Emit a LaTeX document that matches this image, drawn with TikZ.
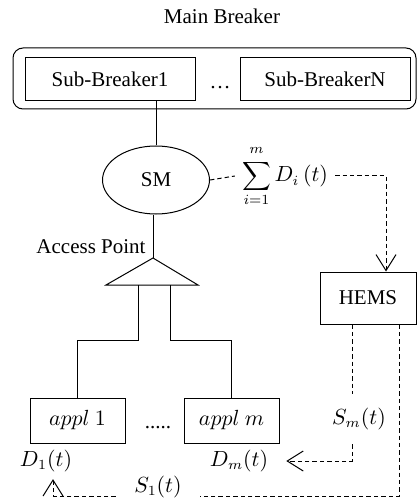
\documentclass[tikz,border=0pt]{standalone}
\usepackage{fontspec}
\setmainfont{Liberation Serif}
\usetikzlibrary{shapes.geometric,arrows.meta}
\begin{document}
\begin{tikzpicture}[x=0.5pt,y=-0.5pt,line width=0.5pt,
    font=\fontsize{10.5}{12.6}\selectfont,
    brk/.style={draw,minimum width=85pt,minimum height=21.5pt,inner sep=1pt},
    appl/.style={draw,minimum width=47.5pt,minimum height=22.5pt},
    sig/.style={dash pattern=on 2.2pt off 1.5pt},
    sigarrow/.style={-{Straight Barb[length=8pt,width=10pt]}}]
    \useasboundingbox (0,0) rectangle (417,502);
    \node (mb) at (222,16) {Main Breaker};
    \node[draw,rounded corners=5pt,minimum width=201.5pt,minimum height=30.5pt] (main) at (214.5,78.5) {};
    \node[brk] (sb1) at (110,79.5) {Sub-Breaker1};
    \node[anchor=base] (sbdots) at (220,89) {\dots};
    \node[brk] (sbn) at (325,79.5) {Sub-BreakerN};
    \node[draw,ellipse,minimum width=53.5pt,minimum height=34pt,inner sep=0pt] (sm) at (156,180) {SM};
    \node (sum) at (285,176) {$\displaystyle\sum_{i=1}^{m\rule[-2.5pt]{0pt}{0pt}} D_i\,(t)$};
    \node (aplbl) at (91,247) {Access Point};
    \node[draw,minimum width=48pt,minimum height=26pt] (hems) at (368,298) {HEMS};
    \node[appl] (a1) at (77.5,420.5) {$appl~1$};
    \node[anchor=base] (adots) at (158,428) {.....};
    \node[appl] (am) at (231.5,420.5) {$appl~m$};
    \node (d1) at (46,461) {$D_1(t)$};
    \node (dm) at (239,461) {$D_m(t)$};
    \node[inner ysep=7pt] (sml) at (359,419) {$S_m(t)$};
    \node[inner xsep=9pt] (s1l) at (158,487) {$S_1(t)$};
    \coordinate (ap) at (153,258);
    \coordinate (apl) at (106,285);
    \coordinate (apr) at (198,285);
    \coordinate (b1) at (138,285);
    \coordinate (b2) at (170,285);
    \coordinate (hx) at (386,0);
    \coordinate (hl) at (352,0);
    \coordinate (hr) at (399,0);
    \coordinate (lowy) at (0,496);
    \draw (sm.north |- sb1.south) -- (sm.north);
    \draw (ap |- sm.south) -- (ap);
    \draw (ap) -- (apl) -- (apr) -- cycle;
    \draw (b1) -- ++(0,55) -| (a1.north);
    \draw (b2) -- ++(0,55) -| (am.north);
    \draw[sig] (sm.east) -- (sum.west);
    \draw[sig,sigarrow] (sum.east) -| (hems.north -| hx);
    \draw[sig] (hems.south -| hl) -- (sml.north -| hl);
    \draw[sig,sigarrow] (sml.south -| hl) |- ([xshift=5.5pt]dm.east);
    \draw[sig] (hems.south -| hr) |- (s1l.east |- lowy);
    \draw[sig,sigarrow] (s1l.west |- lowy) -| ([xshift=3.5pt]d1.south);
\end{tikzpicture}
\end{document}
